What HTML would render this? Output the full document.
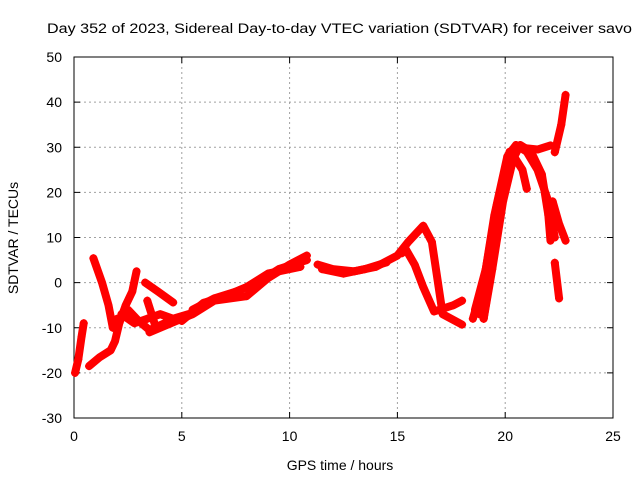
<!DOCTYPE html>
<html><head><meta charset="utf-8"><style>body{margin:0;background:#fff}svg{display:block;font-family:"Liberation Sans",sans-serif}</style></head>
<body>
<svg id="chart" width="640" height="480" xmlns="http://www.w3.org/2000/svg">
<text x="47" y="33" font-size="13.5" textLength="585" lengthAdjust="spacingAndGlyphs">Day 352 of 2023, Sidereal Day-to-day VTEC variation (SDTVAR) for receiver savo</text>
<g id="grid"></g>
<g id="axes"></g>
<g id="series"></g>
<text x="340" y="470" font-size="14" text-anchor="middle">GPS time / hours</text>
<text transform="translate(18,238) rotate(-90)" font-size="14" text-anchor="middle">SDTVAR / TECUs</text>
</svg>
<script>
const xTicks=[0,5,10,15,20,25];
const yTicks=[-30,-20,-10,0,10,20,30,40,50];
const trackA=[[0.05,-20],[0.2,-17],[0.35,-12],[0.45,-9]];
const trackB=[[0.7,-18.5],[1.2,-16.5],[1.7,-15],[1.9,-13],[2.1,-9],[2.4,-5],[2.7,-2],[2.9,2.5]];
const trackC=[[0.9,5.4],[1.3,0],[1.6,-5],[1.8,-10],[2.0,-8]];
const trackD=[[2.0,-9],[2.5,-6],[3.0,-8.5],[3.5,-10.5],[4.2,-9],[5.0,-7.5]];
const trackD2=[[2.2,-7],[2.8,-9],[3.4,-8],[4.0,-7],[4.6,-8],[5.3,-7]];
const trackE=[[3.3,0],[3.9,-2],[4.6,-4.4]];
const trackE2=[[3.4,-4],[3.6,-7],[3.8,-10]];
const trackF=[[3.5,-11],[4.5,-9],[5.5,-7],[6.5,-4],[8,-3],[9,1],[10,4],[10.8,6]];
const trackG=[[5,-8.5],[6,-4.5],[7,-3],[8,-1],[9,2],[10.5,3.5]];
const trackG2=[[5.5,-6],[6.5,-3.5],[7.5,-2],[8.5,0],[9.5,3],[10.8,5]];
const trackH=[[11.3,4],[12,3],[13,2.5],[14,3.5],[15,6],[15.5,9],[16.2,12.6],[16.6,9],[17.1,-7],[18.0,-9.3]];
const trackH2=[[11.5,3],[12.5,2],[13.5,3],[14.5,4.5]];
const trackI=[[15.2,6.5],[15.4,7.3],[15.8,4],[16.2,-1],[16.7,-6.4],[17.6,-5],[18.0,-4]];
const trackJ=[[18.5,-8],[19,0],[19.5,15],[20.1,28],[20.5,30.5],[21,29],[21.5,25],[22,18],[22.3,10]];
const trackK=[[18.8,-7],[19.3,5],[19.8,20],[20.4,28],[20.8,25],[21.0,20.8]];
const trackK2=[[18.6,-6],[19.1,3],[19.6,17],[20.2,29]];
const trackK3=[[19.0,-8],[19.4,3],[19.9,18],[20.3,26]];
const trackL=[[19,-8],[19.6,10],[20.1,25],[20.7,30.5],[21.2,29],[21.7,24],[22,15],[22.1,9.3]];
const trackM=[[22.2,18],[22.5,13],[22.8,9.3]];
const trackN=[[20.5,30],[21.5,29.5],[22.1,30.4]];
const trackO=[[22.3,28.9],[22.6,35],[22.8,41.6]];
const trackP=[[22.3,4.4],[22.5,-3.5]];
const tracks=[trackA,trackB,trackC,trackD,trackD2,trackE,trackE2,trackF,trackG,trackG2,trackH,trackH2,trackI,trackJ,trackK,trackK2,trackK3,trackL,trackM,trackN,trackO,trackP];
const X0=74,X1=613,Y0=418,Y1=57;
const xs=v=>X0+(v-0)/25*(X1-X0);
const ys=v=>Y0-(v+30)/80*(Y0-Y1);
const NS='http://www.w3.org/2000/svg';
function mk(t,a,p){const e=document.createElementNS(NS,t);for(const k in a)e.setAttribute(k,a[k]);p.appendChild(e);return e;}
const grid=document.getElementById('grid'),axes=document.getElementById('axes'),ser=document.getElementById('series');
xTicks.forEach(t=>{const x=xs(t);
 if(t>0&&t<25){const l=mk('line',{x1:x,x2:x,y1:Y1,y2:Y0,stroke:'#a0a0a0','stroke-dasharray':'2,3'},grid);}
 const tx=mk('text',{x:x,y:Y0+23,'font-size':14,'text-anchor':'middle'},axes);tx.textContent=t;
 
 mk('line',{x1:x,x2:x,y1:Y0,y2:Y0-6,stroke:'#000'},axes);mk('line',{x1:x,x2:x,y1:Y1,y2:Y1+6,stroke:'#000'},axes);});
yTicks.forEach(t=>{const y=ys(t);
 if(t>-30&&t<50){const l=mk('line',{x1:X0,x2:X1,y1:y,y2:y,stroke:'#a0a0a0','stroke-dasharray':'2,3'},grid);}
 const tx=mk('text',{x:X0-12,y:y+5,'font-size':14,'text-anchor':'end'},axes);tx.textContent=t;
 
 mk('line',{x1:X0,x2:X0+6,y1:y,y2:y,stroke:'#000'},axes);mk('line',{x1:X1,x2:X1-6,y1:y,y2:y,stroke:'#000'},axes);});
const b=mk('rect',{x:X0,y:Y1,width:X1-X0,height:Y0-Y1,fill:'none',stroke:'#000'},axes);

tracks.forEach(tr=>{
 const p=mk('polyline',{points:tr.map(d=>xs(d[0])+','+ys(d[1])).join(' '),fill:'none',stroke:'#f00','stroke-width':8,'stroke-linejoin':'round','stroke-linecap':'round'},ser);
 
 
 tr.forEach(d=>{const x=xs(d[0]),y=ys(d[1]);
  const m=mk('path',{d:`M${x-4},${y}h8M${x},${y-4}v8`,stroke:'#f00','stroke-width':1.5},ser);
  
  });
});
</script>
</body></html>
